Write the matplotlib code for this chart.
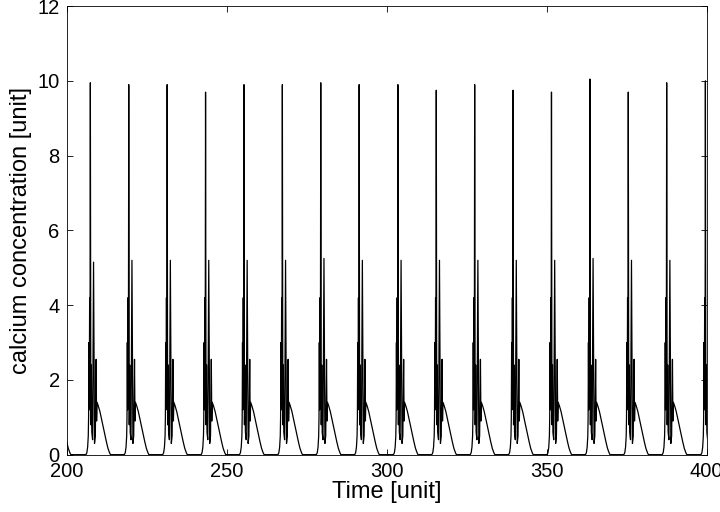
import numpy as np
import matplotlib
matplotlib.use("Agg")
import matplotlib.pyplot as plt

plt.rcParams['font.family'] = ['Liberation Sans', 'DejaVu Sans']

# Times of the main calcium spike of each burst and their heights
burst_times = [195.0, 207.4, 219.4, 231.4, 243.4, 255.4, 267.4, 279.4, 291.4,
               303.5, 315.5, 327.5, 339.5, 351.5, 363.5, 375.5, 387.5, 399.6]
peak_heights = [9.9, 9.95, 9.9, 9.9, 9.7, 9.9, 9.9, 9.95, 9.9,
                9.9, 9.75, 9.9, 9.75, 9.7, 10.05, 9.7, 9.95, 10.0]
second_heights = [5.2, 5.15, 5.2, 5.2, 5.2, 5.2, 5.2, 5.25, 5.2,
                  5.2, 5.2, 5.2, 5.2, 5.2, 5.25, 5.2, 5.2, 5.2]

# Shape of one burst: offset from main spike (time units) and level
burst_dt = [-2.0, -1.4, -1.1, -0.85, -0.65, -0.55, -0.45, -0.35, -0.22, -0.12,
            0.0, 0.15, 0.3, 0.45, 0.7, 1.0, 1.3, 1.55, 1.8, 1.95,
            2.1, 2.5, 3.0, 3.5, 4.0, 4.5, 5.0, 5.5, 6.0, 6.3, 6.8]
burst_level = [0.0, 0.0, 0.05, 0.2, 0.5, 1.0, 3.0, 1.2, 4.2, 1.5,
               None, 0.8, 2.4, 0.6, 0.4, 'S', 0.3, 0.5, 2.55, 0.9,
               1.4, 1.3, 1.15, 0.95, 0.75, 0.55, 0.35, 0.17, 0.05, 0.0, 0.0]

t_all, c_all = [], []
for T, h, s in zip(burst_times, peak_heights, second_heights):
    for dt, lv in zip(burst_dt, burst_level):
        if lv is None:
            lv = h
        elif lv == 'S':
            lv = s
        t_all.append(T + dt)
        c_all.append(lv)

fig = plt.figure(figsize=(7.2, 5.12), dpi=100)
ax = fig.add_axes([0.0926, 0.112, 0.8889, 0.876])
ax.plot(t_all, c_all, color='black', linewidth=0.9)
ax.set_xlim(200, 400)
ax.set_ylim(0, 12)
ax.set_xticks([200, 250, 300, 350, 400])
ax.set_yticks([0, 2, 4, 6, 8, 10, 12])
ax.tick_params(direction='in', top=True, right=True, labelsize=14.5,
               length=4.5, width=0.6, pad=5)
for sp in ax.spines.values():
    sp.set_linewidth(0.6)
ax.set_xlabel('Time [unit]', fontsize=17, labelpad=0)
ax.set_ylabel('calcium concentration [unit]', fontsize=17, labelpad=4)
fig.savefig('out.png', dpi=100)
